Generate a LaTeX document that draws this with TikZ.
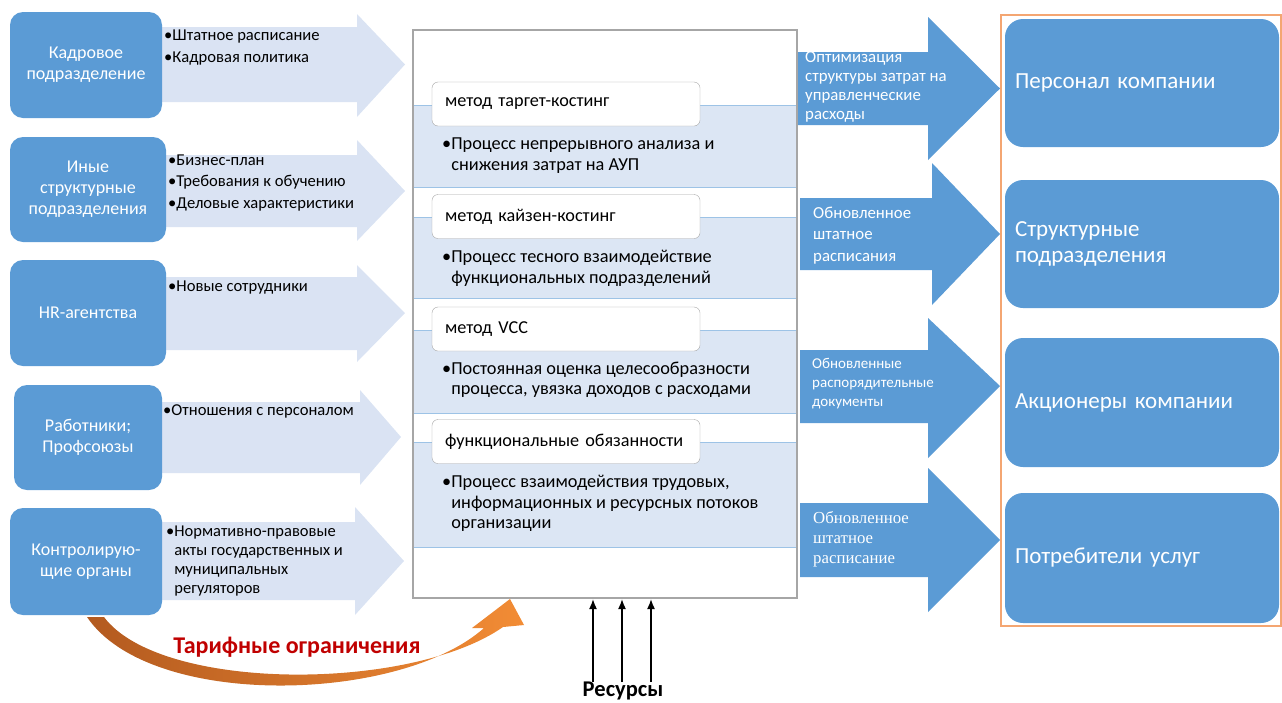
\documentclass[tikz,border=0pt]{standalone}
\usepackage{fontspec}
\setmainfont{Carlito}
\newfontfamily\serifrm{Liberation Serif}
\usetikzlibrary{arrows.meta}
\definecolor{boxblue}{HTML}{5B9BD5}
\definecolor{lightarrow}{HTML}{DAE3F3}
\definecolor{bandfill}{HTML}{DCE6F4}
\definecolor{bandline}{HTML}{9DC3E6}
\definecolor{framegray}{HTML}{A6A6A6}
\definecolor{orangeframe}{HTML}{F4A672}
\definecolor{redtext}{HTML}{C00000}
\definecolor{darkorange}{HTML}{B35A1F}
\definecolor{brightorange}{HTML}{F28C35}
\newcommand\myfs[2]{\fontsize{#1}{#2}\selectfont}
\tikzset{
  srcbox/.style={fill=boxblue, rounded corners=13pt, text=white, align=center, font=\myfs{18}{21}, inner sep=0},
  inarrow/.style={fill=lightarrow},
  intext/.style={anchor=west, align=left, inner sep=0, font=\myfs{16.6}{21.5}},
  smalltext/.style={anchor=west, align=left, inner sep=0, font=\myfs{16.5}{19}},
  labbox/.style={draw=framegray, fill=white, rounded corners=6pt, minimum width=268pt, minimum height=44pt, text width=242pt, inner xsep=13pt, inner ysep=0pt, align=left, font=\myfs{18.2}{20}},
  bandtext/.style={anchor=west, align=left, inner sep=0, font=\myfs{18.3}{20.5}},
  outarrow/.style={fill=boxblue},
  rtext/.style={anchor=west, align=left, inner sep=0, text=white},
  dstbox/.style={fill=boxblue, rounded corners=18pt, text=white, minimum width=274pt, text width=254pt, inner xsep=10pt, align=left, font=\myfs{23}{26}},
  resarrow/.style={line width=1.6pt, -{Latex[length=10pt,width=8pt]}},
}
\begin{document}
\begin{tikzpicture}[x=1pt,y=-1pt]
\useasboundingbox (0,0) rectangle (1282,702);
% left input arrows
\fill[inarrow] (160,27) -- (357,27) -- (357,14) -- (405,64.5) -- (357,117) -- (357,102) -- (160,102) -- cycle;
\fill[inarrow] (164,155) -- (357,155) -- (357,140) -- (405,191) -- (357,241) -- (357,227) -- (164,227) -- cycle;
\fill[inarrow] (164,277) -- (357,277) -- (357,265) -- (405,313) -- (357,362) -- (357,350) -- (164,350) -- cycle;
\fill[inarrow] (160,402) -- (360,402) -- (360,390) -- (401,437) -- (360,485) -- (360,473) -- (160,473) -- cycle;
\fill[inarrow] (160,522) -- (355,522) -- (355,507) -- (404,561) -- (355,615) -- (355,600) -- (160,600) -- cycle;
% left source boxes
\node[srcbox, minimum width=152pt, minimum height=106pt] (s1) at (86,65) {Кадровое\\подразделение};
\node[srcbox, minimum width=156pt, minimum height=105pt] (s2) at (88,189.5) {Иные\\структурные\\подразделения};
\node[srcbox, minimum width=156pt, minimum height=106pt] (s3) at (88,313) {HR-агентства};
\node[srcbox, minimum width=148pt, minimum height=105pt] (s4) at (88,437.5) {Работники;\\Профсоюзы};
\node[srcbox, minimum width=152pt, minimum height=107pt] (s5) at (86,561.5) {Контролирую-\\щие органы};
% input texts
\node[intext] (t1) at (164,47.5) {•Штатное расписание\\•Кадровая политика};
\node[intext] (t2) at (168,183) {•Бизнес-план\\•Требования к обучению\\•Деловые характеристики};
\node[intext] (t3) at (168,288) {•Новые сотрудники};
\node[intext] (t4) at (163,411) {•Отношения с персоналом};
\node[smalltext] (t5) at (166,561.5) {•Нормативно-правовые\\\phantom{•}акты государственных и\\\phantom{•}муниципальных\\\phantom{•}регуляторов};
% central process box
\node[draw=framegray, line width=1.5pt, fill=white, minimum width=384pt, minimum height=568pt, inner sep=0] (proc) at (605,314) {};
\foreach \ya/\yb in {105/187, 217/298, 330/413, 442/547}{
  \fill[bandfill] (414,\ya) rectangle (796,\yb);
  \draw[bandline, line width=1pt] (414,\ya) -- (796,\ya);
  \draw[bandline, line width=1pt] (414,\yb) -- (796,\yb);
}
\node[labbox] (m1) at (566,104) {метод таргет-костинг};
\node[labbox] (m2) at (566,216.5) {метод кайзен-костинг};
\node[labbox] (m3) at (566,329) {метод VCC};
\node[labbox] (m4) at (566,441.5) {функциональные обязанности};
\node[bandtext] (b1) at (442,155.5) {•Процесс непрерывного анализа и\\\phantom{•}снижения затрат на АУП};
\node[bandtext] (b2) at (442,268.5) {•Процесс тесного взаимодействие\\\phantom{•}функциональных подразделений};
\node[bandtext] (b3) at (442,380) {•Постоянная оценка целесообразности\\\phantom{•}процесса, увязка доходов с расходами};
\node[bandtext] (b4) at (442,503.5) {•Процесс взаимодействия трудовых,\\\phantom{•}информационных и ресурсных потоков\\\phantom{•}организации};
% output arrows
\fill[outarrow] (798,52) -- (928,52) -- (928,17) -- (1000,88.5) -- (928,160) -- (928,125) -- (798,125) -- cycle;
\fill[outarrow] (800,198) -- (932,198) -- (932,163) -- (1000,234) -- (932,305) -- (932,270) -- (800,270) -- cycle;
\fill[outarrow] (800,350) -- (928,350) -- (928,318) -- (1000,386) -- (928,458) -- (928,423) -- (800,423) -- cycle;
\fill[outarrow] (800,503) -- (928,503) -- (928,468) -- (1000,540) -- (928,612) -- (928,577) -- (800,577) -- cycle;
\node[rtext, font=\myfs{16.8}{19}] (o1) at (805,86.5) {Оптимизация\\структуры затрат на\\управленческие\\расходы};
\node[rtext, font=\myfs{16.8}{21.5}] (o2) at (813,235.5) {Обновленное\\штатное\\расписания};
\node[rtext, font=\myfs{15}{19}] (o3) at (812,384) {Обновленные\\распорядительные\\документы};
\node[rtext, font=\serifrm\myfs{16.8}{20}] (o4) at (813,539) {Обновленное\\штатное\\расписание};
% receivers
\draw[orangeframe, line width=2pt] (1001,15) rectangle (1280.5,626);
\node[dstbox, minimum height=128pt] (d1) at (1142,83) {Персонал компании};
\node[dstbox, minimum height=128pt] (d2) at (1142,244) {Структурные\\подразделения};
\node[dstbox, minimum height=129pt] (d3) at (1142,402.5) {Акционеры компании};
\node[dstbox, minimum height=130pt] (d4) at (1142,558) {Потребители услуг};
% tariff constraint curved arrow
\shade[left color=darkorange, right color=brightorange] (87,617) .. controls (150,710) and (400,703) .. (484,628) -- (472,628) -- (510,599) -- (524,625) -- (503,627) .. controls (410,692) and (160,692) .. (104,617) -- cycle;
\node[font=\bfseries\myfs{24}{26}, text=redtext] (tar) at (297,647) {Тарифные ограничения};
% resources
\node[font=\bfseries\myfs{22.5}{24}, inner sep=0] (res) at (623,691) {Ресурсы};
\coordinate (ra1) at (593,682); \coordinate (rb1) at (593,599);
\coordinate (ra2) at (622,682); \coordinate (rb2) at (622,599);
\coordinate (ra3) at (651,682); \coordinate (rb3) at (651,599);
\draw[resarrow] (ra1) -- (rb1);
\draw[resarrow] (ra2) -- (rb2);
\draw[resarrow] (ra3) -- (rb3);
\end{tikzpicture}
\end{document}
